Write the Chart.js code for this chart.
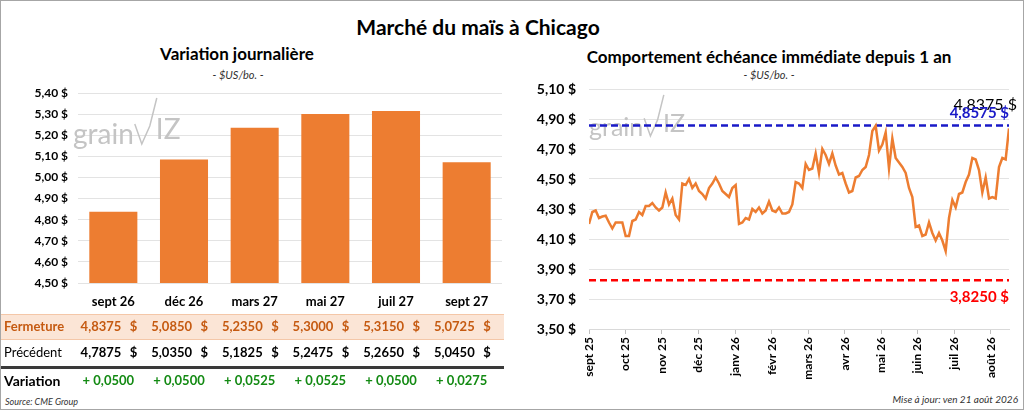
<!DOCTYPE html>
<html lang="fr">
<head>
<meta charset="utf-8">
<title>Marché du maïs à Chicago</title>
<script src="https://cdn.jsdelivr.net/npm/chart.js@4.4.1/dist/chart.umd.min.js"></script>
<style>
  body { margin: 0; background: #fff; font-family: Lato, "Open Sans", sans-serif; }
  #wrap { position: relative; width: 1024px; height: 410px; box-sizing: border-box; border: 1px solid #A6A6A6; overflow: hidden; }
  .t { position: absolute; white-space: nowrap; color: #000; transform: translate(-50%, -50%); }
  .titre { font-size: 21px; font-weight: bold; }
  .sous { font-size: 17px; font-weight: bold; }
  .unite { font-size: 11px; font-style: italic; color: #333; }
  canvas { position: absolute; }
</style>
</head>
<body>
<div id="wrap">
  <div class="t titre" style="left:477px; top:25px;">Marché du maïs à Chicago</div>
  <div class="t sous" style="left:236px; top:52px;">Variation journalière</div>
  <div class="t unite" style="left:237px; top:73px;">- $US/bo. -</div>
  <div class="t sous" style="left:768px; top:55px;">Comportement échéance immédiate depuis 1 an</div>
  <div class="t unite" style="left:768px; top:73px;">- $US/bo. -</div>
  <div style="position:absolute; left:4px; top:395px; font-size:9px; font-style:italic; color:#333;">Source: CME Group</div>
  <div style="position:absolute; right:5px; top:392px; font-size:10px; font-style:italic; color:#333;">Mise à jour: ven 21 août 2026</div>
  <canvas id="barres" style="left:0; top:40px;"></canvas>
  <canvas id="ligne" style="left:520px; top:40px;"></canvas>
</div>
<script>
// Échéances et prix ($US/bo.)
const echeances = ['sept 26', 'déc 26', 'mars 27', 'mai 27', 'juil 27', 'sept 27'];
const fermeture = [4.8375, 5.0850, 5.2350, 5.3000, 5.3150, 5.0725];
const precedent = [4.7875, 5.0350, 5.1825, 5.2475, 5.2650, 5.0450];
const variation = [0.0500, 0.0500, 0.0525, 0.0525, 0.0500, 0.0275];

// Échéance immédiate sur un an (une valeur environ tous les deux jours de séance)
const prixAnnee = [
  4.20, 4.28, 4.29, 4.24, 4.25, 4.255, 4.21, 4.17, 4.21, 4.21,
  4.21, 4.12, 4.12, 4.22, 4.23, 4.28, 4.26, 4.32, 4.32, 4.34,
  4.31, 4.29, 4.31, 4.41, 4.33, 4.37, 4.26, 4.23, 4.47, 4.46,
  4.50, 4.44, 4.47, 4.42, 4.40, 4.37, 4.44, 4.47, 4.51, 4.47,
  4.42, 4.40, 4.38, 4.44, 4.46, 4.20, 4.21, 4.24, 4.23, 4.30,
  4.28, 4.31, 4.27, 4.29, 4.35, 4.29, 4.28, 4.31, 4.27, 4.27,
  4.28, 4.33, 4.48, 4.47, 4.44, 4.60, 4.56, 4.57, 4.67, 4.54,
  4.70, 4.66, 4.60, 4.67, 4.59, 4.53, 4.54, 4.47, 4.41, 4.42,
  4.51, 4.52, 4.56, 4.58, 4.66, 4.82, 4.855, 4.69, 4.73, 4.81,
  4.57, 4.77, 4.64, 4.61, 4.58, 4.54, 4.44, 4.38, 4.18, 4.19,
  4.12, 4.13, 4.21, 4.14, 4.09, 4.14, 4.09, 4.02, 4.24, 4.36,
  4.31, 4.40, 4.41, 4.48, 4.53, 4.64, 4.63, 4.56, 4.41, 4.51,
  4.37, 4.38, 4.37, 4.58, 4.64, 4.63, 4.8375
];
const haut52 = 4.8575;
const bas52 = 3.8250;
const derniere = 4.8375;

// Repères des mois (position dans la série)
const moisLabels = ['sept 25', 'oct 25', 'nov 25', 'déc 25', 'janv 26', 'févr 26', 'mars 26', 'avr 26', 'mai 26', 'juin 26', 'juil 26', 'août 26'];
const moisPos = [0, 10.8, 21.8, 32.8, 43.8, 54.8, 65.7, 76.7, 87.7, 98.5, 109.5, 120.5];

const ORANGE = '#ED7D31';
const POLICE = 'Lato, "Open Sans", sans-serif';

function fr(v, d) { return v.toFixed(d).replace('.', ','); }

// Filigrane "grainwiz" (coordonnées dans le canvas)
function filigrane(x0, yBase, taille) {
  return {
    id: 'filigrane',
    beforeDatasetsDraw(chart) {
      const ctx = chart.ctx;
      ctx.save();
      ctx.fillStyle = '#C4C4C4';
      ctx.strokeStyle = '#C4C4C4';
      ctx.font = taille + 'px ' + POLICE;
      ctx.textBaseline = 'alphabetic';
      ctx.fillText('grain', x0, yBase);
      const w = ctx.measureText('grain').width;
      const k = taille / 28;
      ctx.lineWidth = 1.5;
      ctx.beginPath();
      ctx.moveTo(x0 + w + 1 * k, yBase - 20 * k);
      ctx.lineTo(x0 + w + 8 * k, yBase);
      ctx.lineTo(x0 + w + 16 * k, yBase - 18 * k);
      ctx.lineTo(x0 + w + 23 * k, yBase - 46 * k);
      ctx.stroke();
      ctx.fillText('IZ', x0 + w + 22 * k, yBase - 5 * k);
      ctx.restore();
    }
  };
}

// Tableau sous le graphique à barres
const tableau = {
  id: 'tableau',
  afterDraw(chart) {
    const ctx = chart.ctx;
    const sx = chart.scales.x;
    ctx.save();
    // bande Fermeture
    ctx.fillStyle = '#FBE5D6';
    ctx.fillRect(0, 273, 503, 25);
    ctx.strokeStyle = '#F4C7A8';
    ctx.lineWidth = 1;
    ctx.beginPath();
    ctx.moveTo(0, 273.5); ctx.lineTo(503, 273.5);
    ctx.moveTo(0, 298.5); ctx.lineTo(503, 298.5);
    ctx.stroke();
    ctx.strokeStyle = '#3A3A3A';
    ctx.lineWidth = 3;
    ctx.beginPath();
    ctx.moveTo(0, 326.5); ctx.lineTo(503, 326.5);
    ctx.stroke();

    ctx.textBaseline = 'middle';
    ctx.textAlign = 'left';
    ctx.font = 'bold 13px ' + POLICE;
    ctx.fillStyle = '#C55A11';
    ctx.fillText('Fermeture', 3, 286);
    ctx.font = '13px ' + POLICE;
    ctx.fillStyle = '#000';
    ctx.fillText('Précédent', 3, 312);
    ctx.font = 'bold 14px ' + POLICE;
    ctx.fillText('Variation', 3, 340);

    echeances.forEach((e, i) => {
      const cx = sx.getPixelForValue(i);
      ctx.font = 'bold 13px ' + POLICE;
      ctx.textAlign = 'right';
      ctx.fillStyle = '#C55A11';
      ctx.fillText(fr(fermeture[i], 4), cx + 8, 286);
      ctx.fillText('$', cx + 24, 286);
      ctx.fillStyle = '#000';
      ctx.fillText(fr(precedent[i], 4), cx + 8, 312);
      ctx.fillText('$', cx + 24, 312);
      ctx.textAlign = 'center';
      ctx.fillStyle = '#138A13';
      ctx.fillText('+ ' + fr(variation[i], 4), cx - 5, 340);
    });
    ctx.restore();
  }
};

// Étiquettes des lignes haut / bas
const etiquettes = {
  id: 'etiquettes',
  afterDatasetsDraw(chart) {
    const ctx = chart.ctx;
    const sy = chart.scales.y;
    const droite = chart.chartArea.right;
    ctx.save();
    ctx.textAlign = 'right';
    ctx.textBaseline = 'middle';
    ctx.font = '16px ' + POLICE;
    ctx.fillStyle = '#000';
    ctx.fillText(fr(derniere, 4) + ' $', droite + 8, sy.getPixelForValue(derniere) - 24);
    ctx.font = 'bold 15px ' + POLICE;
    ctx.fillStyle = '#1A1AC8';
    ctx.fillText(fr(haut52, 4) + ' $', droite, sy.getPixelForValue(haut52) - 12);
    ctx.fillStyle = '#FF0000';
    ctx.fillText(fr(bas52, 4) + ' $', droite, sy.getPixelForValue(bas52) + 17);
    ctx.restore();
  }
};

// Graphique à barres
const cBar = document.getElementById('barres');
cBar.width = 517; cBar.height = 368;
new Chart(cBar, {
  type: 'bar',
  data: {
    labels: echeances,
    datasets: [{
      data: fermeture,
      backgroundColor: ORANGE,
      categoryPercentage: 1,
      barPercentage: 0.68
    }]
  },
  options: {
    responsive: false,
    animation: false,
    layout: { padding: { top: 52, right: 16, bottom: 100, left: 0 } },
    plugins: { legend: { display: false }, tooltip: { enabled: false } },
    scales: {
      x: {
        afterFit: s => { s.height = 26; },
        grid: { display: false, drawTicks: false },
        border: { display: false },
        ticks: { color: '#000', font: { family: POLICE, size: 13, weight: 'bold' }, padding: 11 }
      },
      y: {
        min: 4.5, max: 5.4,
        afterFit: s => { s.width = 77; },
        grid: { color: '#E3E3E3', drawTicks: false },
        border: { display: false },
        ticks: {
          stepSize: 0.1, padding: 10, color: '#000',
          font: { family: POLICE, size: 12, weight: 'bold' },
          callback: v => fr(v, 2) + ' $'
        }
      }
    }
  },
  plugins: [filigrane(72, 103, 28), tableau]
});

// Graphique linéaire
const cLig = document.getElementById('ligne');
cLig.width = 503; cLig.height = 368;
new Chart(cLig, {
  type: 'line',
  data: {
    datasets: [
      {
        data: prixAnnee.map((v, i) => ({ x: i, y: v })),
        borderColor: ORANGE, borderWidth: 2.5, pointRadius: 0, tension: 0
      },
      {
        data: [{ x: 0, y: haut52 }, { x: prixAnnee.length - 1, y: haut52 }],
        borderColor: '#1A1AC8', borderWidth: 2.5, borderDash: [7, 4], pointRadius: 0
      },
      {
        data: [{ x: 0, y: bas52 }, { x: prixAnnee.length - 1, y: bas52 }],
        borderColor: '#FF0000', borderWidth: 2.5, borderDash: [7, 4], pointRadius: 0
      }
    ]
  },
  options: {
    responsive: false,
    animation: false,
    layout: { padding: { top: 48, right: 15, bottom: 28, left: 0 } },
    plugins: { legend: { display: false }, tooltip: { enabled: false } },
    scales: {
      x: {
        type: 'linear',
        min: 0, max: prixAnnee.length - 1,
        afterBuildTicks: s => { s.ticks = moisPos.map(v => ({ value: v })); },
        afterFit: s => { s.height = 52; },
        grid: { drawOnChartArea: false, tickLength: 5, color: '#BFBFBF' },
        border: { color: '#D9D9D9' },
        ticks: {
          autoSkip: false, minRotation: 90, maxRotation: 90, padding: 3, color: '#000',
          font: { family: POLICE, size: 12, weight: 'bold' },
          callback: (v, i) => moisLabels[i]
        }
      },
      y: {
        min: 3.5, max: 5.1,
        afterFit: s => { s.width = 68; },
        grid: { color: '#E3E3E3', drawTicks: false },
        border: { display: false },
        ticks: {
          stepSize: 0.2, padding: 13, color: '#000',
          font: { family: POLICE, size: 14, weight: 'bold' },
          callback: v => fr(v, 2) + ' $'
        }
      }
    }
  },
  plugins: [filigrane(68, 95, 25), etiquettes]
});
</script>
</body>
</html>
